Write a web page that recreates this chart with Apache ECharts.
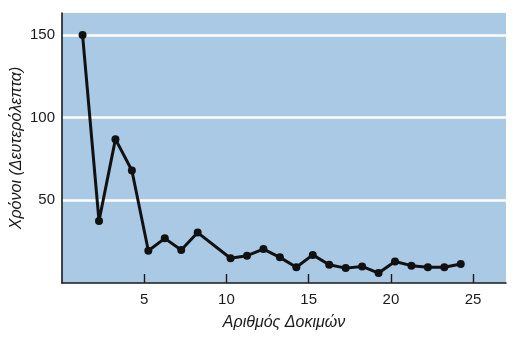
<!DOCTYPE html>
<html>
<head>
<meta charset="utf-8">
<script src="https://cdn.jsdelivr.net/npm/echarts@6/dist/echarts.min.js"></script>
<style>
  html, body { margin: 0; padding: 0; background: #ffffff; }
  #chart { width: 522px; height: 339px; }
</style>
</head>
<body>
<div id="chart"></div>
<script>
// Trial numbers (x) and times in seconds (y); trial 9 has no visible marker
var trials = [1,2,3,4,5,6,7,8,9,10,11,12,13,14,15,16,17,18,19,20,21,22,23,24];
var times  = [150,37.5,87,68,19.5,27,20,30.5,null,15,16.5,20.5,15.5,9.5,17,11,9,10,6,13,10.5,9.5,9.5,11.5];
var xTicks = [5,10,15,20,25];
var yTicks = [50,100,150];
var xTitle = 'Αριθμός Δοκιμών';
var yTitle = 'Χρόνοι (Δευτερόλεπτα)';

var seriesData = trials.map(function (t, i) { return [t, times[i]]; });

var chart = echarts.init(document.getElementById('chart'), null, { renderer: 'canvas' });
chart.setOption({
  animation: false,
  backgroundColor: '#ffffff',
  textStyle: { fontFamily: 'Liberation Sans, Arial, sans-serif' },
  grid: {
    left: 62, right: 16, top: 13, bottom: 56,
    outerBoundsMode: 'none',
    containLabel: false,
    show: true, backgroundColor: '#aac9e4', borderWidth: 0
  },
  xAxis: [{
    type: 'value', min: 0, max: 27, interval: 5,
    name: xTitle, nameLocation: 'middle', nameGap: 32,
    nameTextStyle: { fontStyle: 'italic', fontSize: 16, color: '#1a1a1a' },
    axisLine: { show: true, lineStyle: { color: '#1a1a1a', width: 1.6 } },
    axisTick: { show: true, inside: true, length: 9, customValues: xTicks,
                lineStyle: { color: '#1a1a1a', width: 1.4 } },
    axisLabel: { customValues: xTicks, margin: 9, fontSize: 15, color: '#1a1a1a' },
    splitLine: { show: false }
  }, {
    type: 'value', min: -0.25, max: 26.75, show: false
  }],
  yAxis: {
    type: 'value', min: 0, max: 163.3, interval: 50,
    name: yTitle, nameLocation: 'middle', nameGap: 37,
    nameMoveOverlap: false,
    nameTextStyle: { fontStyle: 'italic', fontSize: 16, color: '#1a1a1a' },
    axisLine: { show: true, lineStyle: { color: '#1a1a1a', width: 1.6 } },
    axisTick: { show: false },
    axisLabel: { customValues: yTicks, margin: 7, fontSize: 15, color: '#1a1a1a' },
    splitLine: { show: true, showMinLine: false, showMaxLine: false,
                 lineStyle: { color: '#ffffff', width: 2.5 } }
  },
  series: [{
    type: 'line',
    xAxisIndex: 1,
    data: seriesData,
    connectNulls: true,
    symbol: 'circle',
    symbolSize: 8,
    showAllSymbol: true,
    itemStyle: { color: '#111111' },
    lineStyle: { color: '#111111', width: 3 }
  }]
});
</script>
</body>
</html>
